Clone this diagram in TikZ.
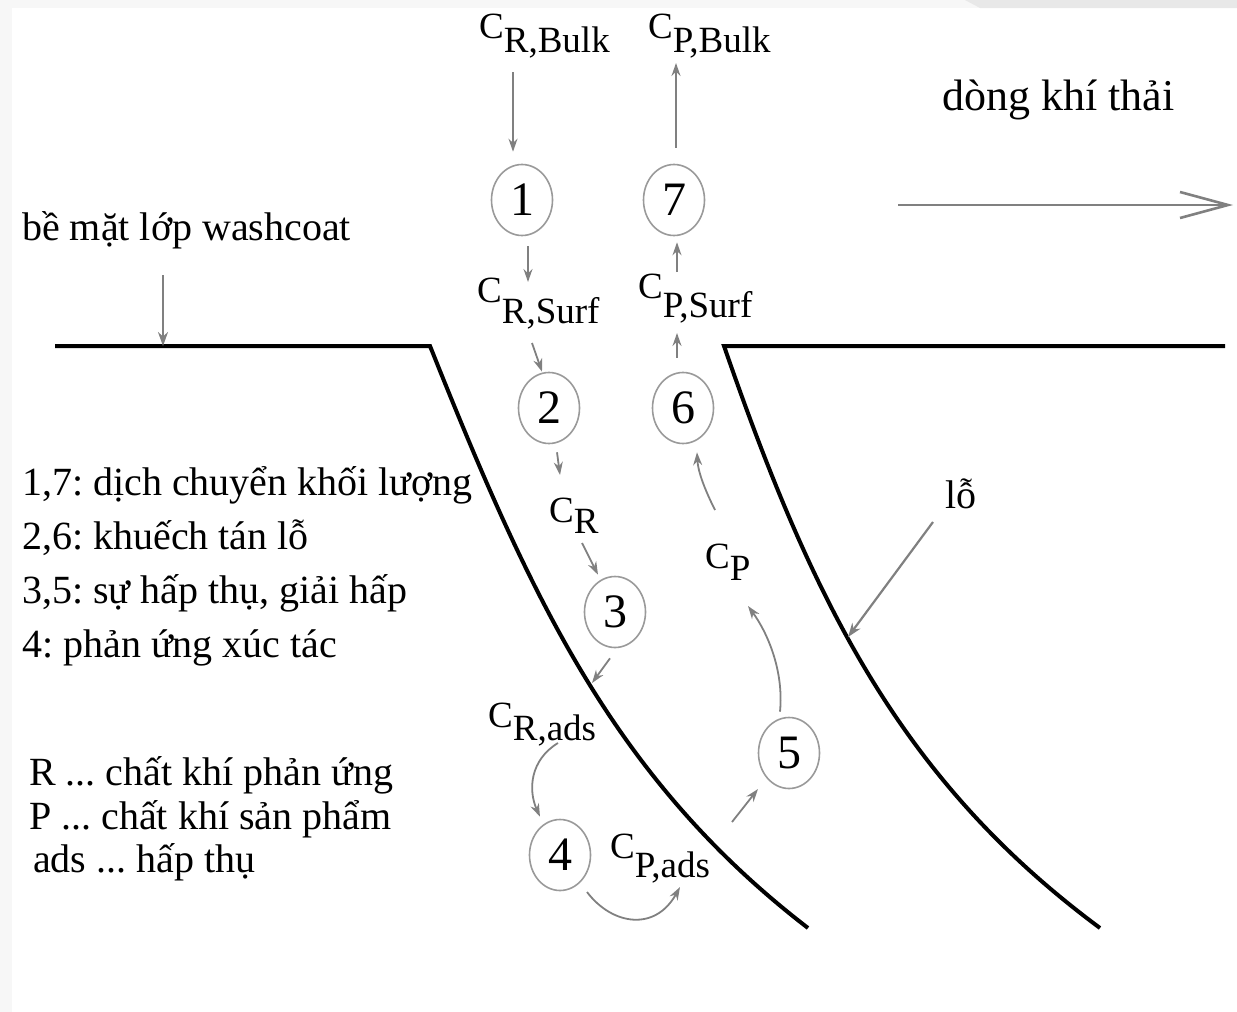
\documentclass[tikz,border=0pt]{standalone}
\usepackage{fontspec}
\setmainfont{Liberation Serif}
\usetikzlibrary{arrows.meta,shapes.geometric}
\frenchspacing

% concentration label: C with a lowered index of the same size
\newcommand{\conc}[2][14]{C\raisebox{-#1pt}{#2}}

\definecolor{stripA}{HTML}{F7F7F7}
\definecolor{stripB}{HTML}{E8E8E8}
\definecolor{arrowgray}{HTML}{808080}
\definecolor{ringgray}{HTML}{9A9A9A}

\tikzset{
  wall/.style={line width=4pt, black, line join=miter},
  ring/.style={ellipse, draw=ringgray, line width=1.6pt, minimum width=61pt,
    minimum height=71pt, inner sep=0pt, font=\fontsize{48}{48}\selectfont},
  conclabel/.style={anchor=base west, inner sep=0pt, font=\fontsize{37}{40}\selectfont},
  txt/.style={anchor=base west, inner sep=0pt, font=\fontsize{40}{44}\selectfont},
  flow/.style={draw=arrowgray, line width=1.8pt,
    -{Stealth[length=13pt,width=9pt]}, arrowgray},
  pointer/.style={draw=arrowgray, line width=2.2pt,
    -{Stealth[length=14pt,width=10pt]}, arrowgray},
  gasflow/.style={draw=arrowgray, line width=2.6pt,
    -{Straight Barb[length=48pt,width=26pt,line width=2.6pt]}}
}

\begin{document}
\begin{tikzpicture}[x=1pt,y=-1pt]
\useasboundingbox (0,0) rectangle (1237,1012);

% faint page edges
\fill[stripA] (0,0) rectangle (1237,8);
\fill[stripA] (0,0) rectangle (12,1012);
\fill[stripB] (965,0) -- (1237,0) -- (1237,8) -- (980,8) -- cycle;

% washcoat surface and pore walls
\draw[wall] (55,346) -- (430,346) .. controls (530,596) and (613,778) .. (808,928);
\draw[wall] (1225,346) -- (724,346) .. controls (812,600) and (900,780) .. (1100,928);

% step circles
\node[ring] (c1) at (522,200) {1};
\node[ring] (c7) at (674,200) {7};
\node[ring] (c2) at (549,408) {2};
\node[ring] (c6) at (683,408) {6};
\node[ring] (c3) at (615,612) {3};
\node[ring] (c5) at (789,753) {5};
\node[ring] (c4) at (560,855) {4};

% concentrations
\node[conclabel] (cRB) at (479,38) {\conc[14]{R,Bulk}};
\node[conclabel] (cPB) at (648,38) {\conc[14]{P,Bulk}};
\node[conclabel] (cRS) at (477,302) {\conc[21]{R,Surf}};
\node[conclabel] (cPS) at (638,298) {\conc[19]{P,Surf}};
\node[conclabel] (cR) at (549,522) {\conc[11]{R}};
\node[conclabel] (cP) at (705,568) {\conc[12]{P}};
\node[conclabel] (cRa) at (488,727) {\conc[13]{R,ads}};
\node[conclabel] (cPa) at (610,858) {\conc[19]{P,ads}};

% reactant path
\draw[flow] ([shift={(34,34)}]cRB.base west) -- ([shift={(-9,-12)}]c1.north);
\draw[flow] ([shift={(6,10)}]c1.south) -- ([shift={(51,-20)}]cRS.base west);
\draw[flow] ([shift={(55,41)}]cRS.base west) -- ([shift={(-7,0)}]c2.north);
\draw[flow] ([shift={(8,8)}]c2.south) -- ([shift={(11,-47)}]cR.base west);
\draw[flow] ([shift={(33,21)}]cR.base west) -- ([shift={(-17,-1)}]c3.north);
\draw[flow] ([shift={(-5,10)}]c3.south) -- ([shift={(104,-44)}]cRa.base west);
\draw[flow] ([shift={(70,16)}]cRa.base west) .. controls (530,760) and (528,790) .. ([shift={(-20,-2)}]c4.north);

% product path
\draw[flow] ([shift={(27,37)}]c4.center) .. controls (612,925) and (655,932) .. ([shift={(70,29)}]cPa.base west);
\draw[flow] ([shift={(122,-36)}]cPa.base west) -- ([shift={(-31,36)}]c5.center);
\draw[flow] ([shift={(-9,-5)}]c5.north) .. controls (784,670) and (767,632) .. ([shift={(43,38)}]cP.base west);
\draw[flow] ([shift={(10,-58)}]cP.base west) .. controls (705,490) and (698,472) .. ([shift={(14,8)}]c6.south);
\draw[flow] ([shift={(-6,-14)}]c6.north) -- ([shift={(39,35)}]cPS.base west);
\draw[flow] ([shift={(39,-26)}]cPS.base west) -- ([shift={(3,6)}]c7.south);
\draw[flow] ([shift={(2,-16)}]c7.north) -- ([shift={(28,25)}]cPB.base west);

% gas stream
\node[txt, font=\fontsize{44}{48}\selectfont] (gas) at (942,110) {dòng khí thải};
\coordinate (gasA) at (898,205);
\coordinate (gasB) at (1233,205);
\draw[gasflow] (gasA) -- (gasB);

% washcoat surface label
\node[txt] (wc) at (22,240) {bề mặt lớp washcoat};
\coordinate (wcHit) at (163,346);
\draw[pointer] ([shift={(141,35)}]wc.base west) -- (wcHit);

% pore label
\node[txt] (pore) at (945,508) {lỗ};
\coordinate (poreHit) at (848,637);
\draw[pointer] ([shift={(-12,14)}]pore.base west) -- (poreHit);

% step legend
\node[txt] (l17) at (22,495) {1,7: dịch chuyển khối lượng};
\node[txt] (l26) at (22,549) {2,6: khuếch tán lỗ};
\node[txt] (l35) at (22,603) {3,5: sự hấp thụ, giải hấp};
\node[txt] (l4) at (22,657) {4: phản ứng xúc tác};

% symbol legend
\node[txt] (kR) at (29,785) {R ... chất khí phản ứng};
\node[txt] (kP) at (29,829) {P ... chất khí sản phẩm};
\node[txt] (kA) at (33,872) {ads ... hấp thụ};
\end{tikzpicture}
\end{document}
